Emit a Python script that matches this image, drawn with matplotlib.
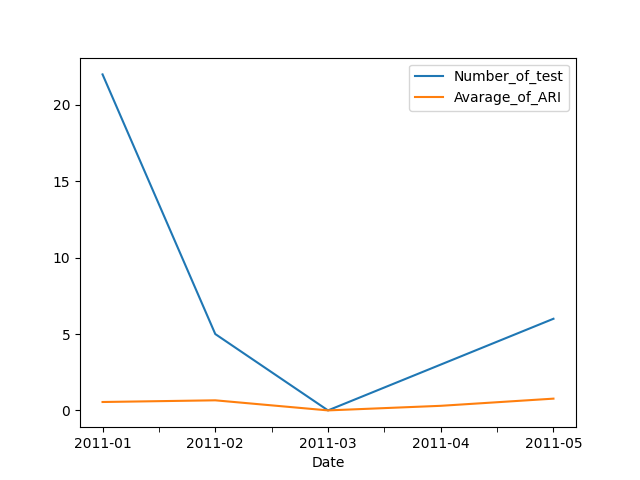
import matplotlib
matplotlib.use("Agg")
import matplotlib.pyplot as plt
from matplotlib.ticker import MultipleLocator

dates = ["2011-01", "2011-02", "2011-03", "2011-04", "2011-05"]
number_of_test = [22, 5, 0, 3, 6]
avarage_of_ari = [0.55, 0.66, 0.0, 0.3, 0.77]

x = list(range(len(dates)))

fig, ax = plt.subplots(figsize=(6.4, 4.8), dpi=100)
ax.plot(x, number_of_test, label="Number_of_test")
ax.plot(x, avarage_of_ari, label="Avarage_of_ARI")

ax.set_xticks(x)
ax.set_xticklabels(dates)
ax.xaxis.set_minor_locator(MultipleLocator(0.5))
ax.tick_params(axis="x", which="minor", length=3.5)
ax.set_xlabel("Date")
ax.legend(loc="upper right")

fig.savefig("out.png")
